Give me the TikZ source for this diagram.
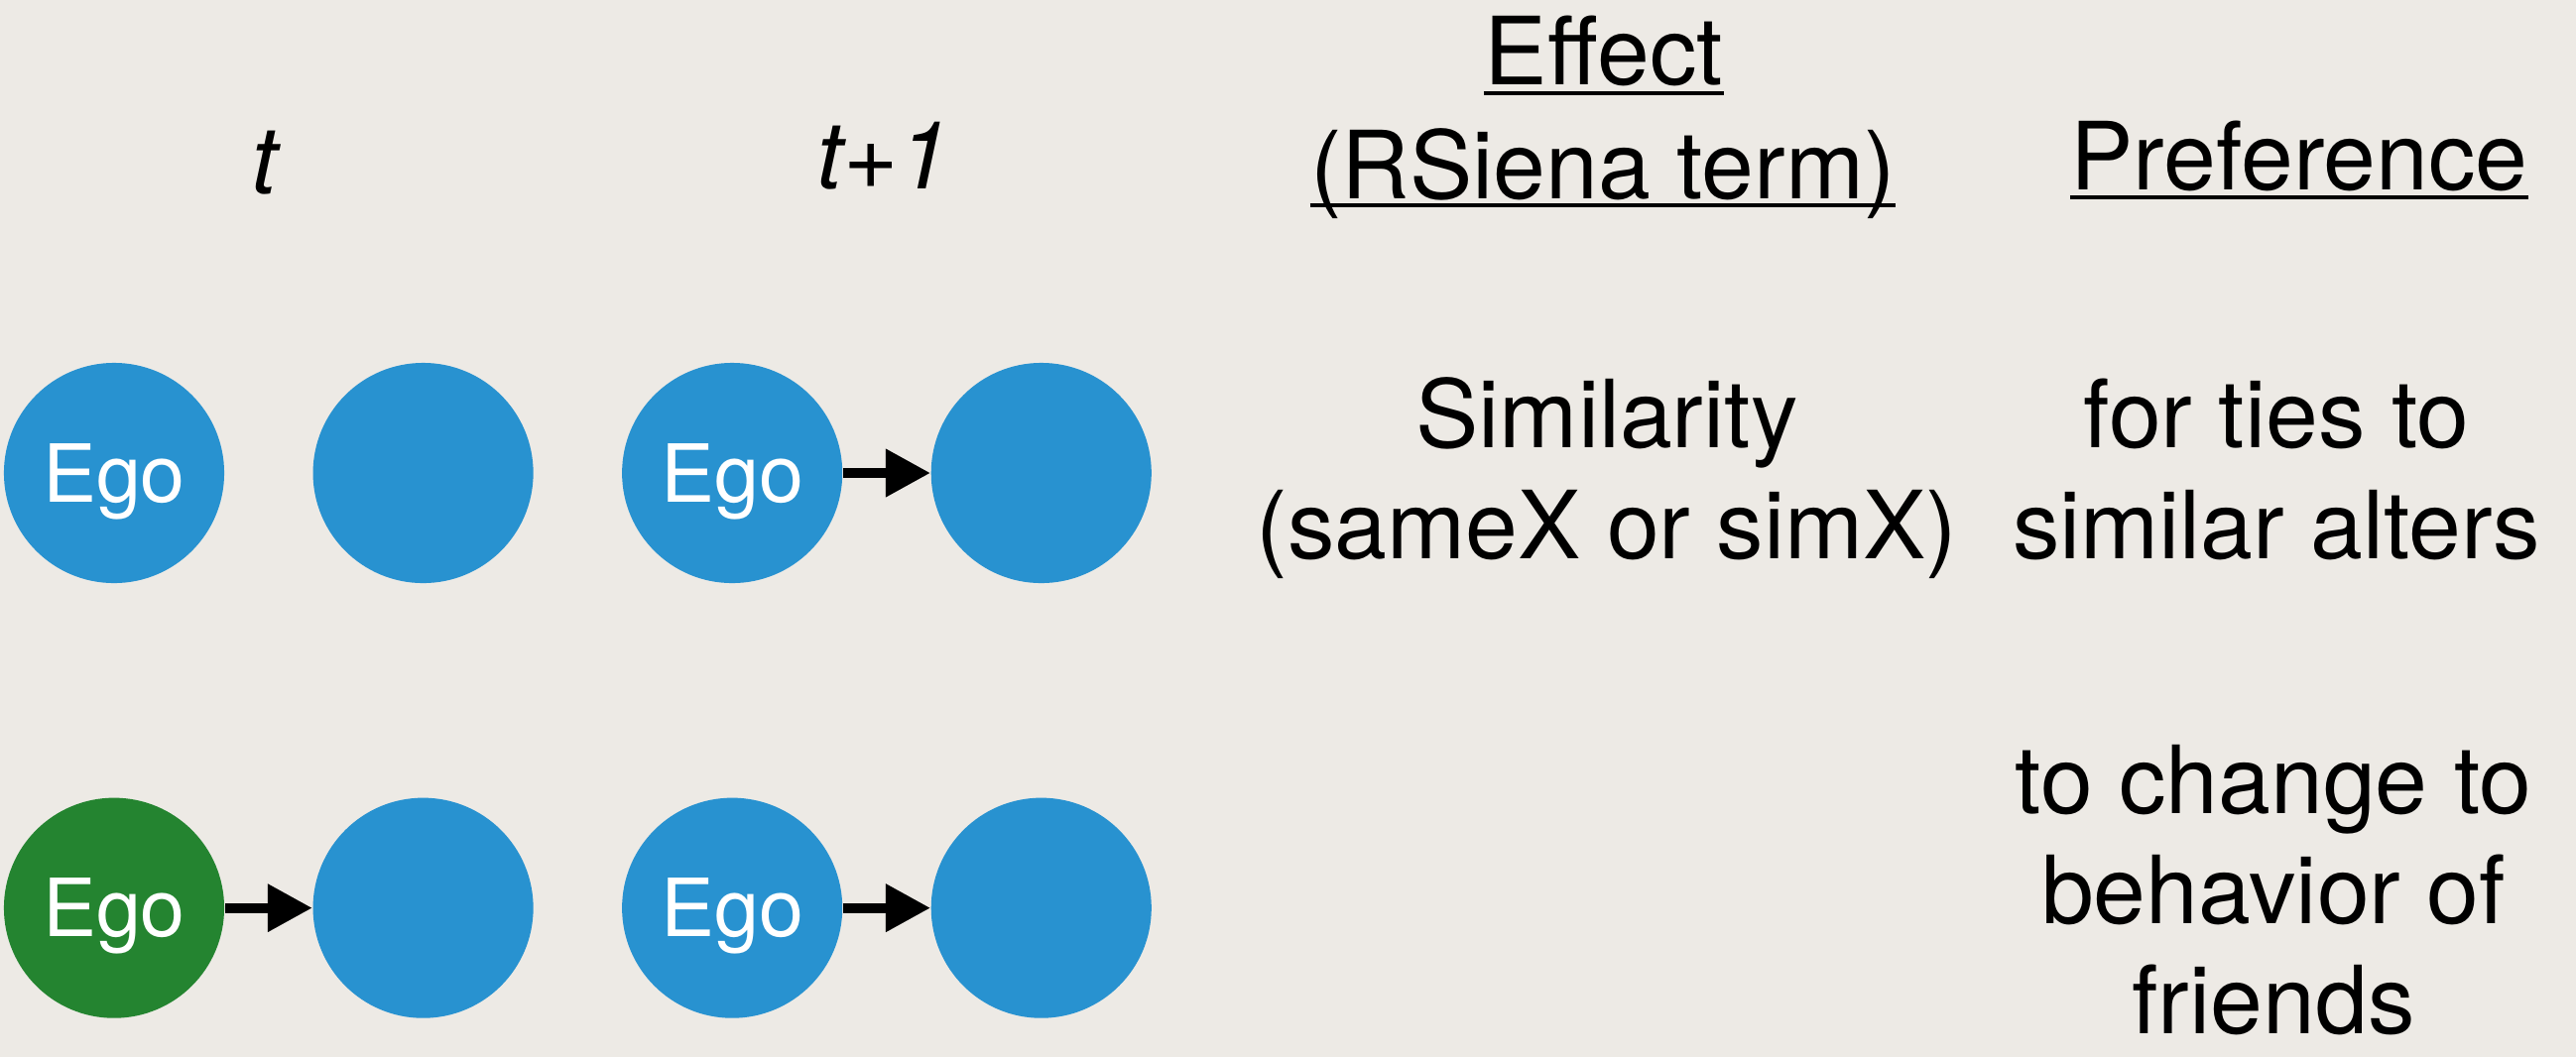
\documentclass[tikz,border=0pt]{standalone}
\usepackage{fontspec}
\setmainfont{TeX Gyre Heros}
\usetikzlibrary{arrows.meta,positioning}
\definecolor{paper}{RGB}{237,234,229}
\definecolor{egoblue}{RGB}{40,146,208}
\definecolor{egogreen}{RGB}{36,132,48}

\begin{document}
\begin{tikzpicture}[
  x=0.01cm, y=-0.01cm, node distance=8.8mm and 8.8mm,
  >={Triangle[length=4.5mm,width=4.6mm]},
  actor/.style={circle,fill=egoblue,minimum size=22.2mm,inner sep=0pt,text=white,
    font=\fontsize{23}{26}\selectfont,text height=5.8mm,text depth=0pt},
  egogr/.style={actor,fill=egogreen},
  tie/.style={->,line width=1mm},
  txt/.style={inner sep=0pt,anchor=base,align=center,font=\fontsize{27}{31.6}\selectfont},
  uline/.style={line width=0.4mm}]
% paper
\fill[paper] (0,0) rectangle (2597,1066);
% time labels
\node[txt] (tnow) at (267,195) {\itshape t};
\node[txt] (tnext) at (891,190) {\itshape t+1};
% column heads
\node[txt] (eff) at (1617,85) {Effect};
\node[txt] (term) at (1616,200) {(RSiena term)};
\node[txt] (pref) at (2318,191) {Preference};
\draw[uline] ([yshift=-0.09cm]eff.base west) -- ([yshift=-0.09cm]eff.base east);
\draw[uline] ([yshift=-0.07cm]term.base west) -- ([yshift=-0.07cm]term.base east);
\draw[uline] ([yshift=-0.08cm]pref.base west) -- ([yshift=-0.08cm]pref.base east);
% selection row
\node[actor] (ego1) at (115,477) {Ego};
\node[actor,right=of ego1] (alt1) {};
\node[actor,right=of alt1] (ego1n) {Ego};
\node[actor,right=of ego1n] (alt1n) {};
\draw[tie] (ego1n) -- (alt1n);
% base = last line
\node[txt] (simil) at (1620,563) {Similarity\\(sameX or simX)};
\node[txt] (selpref) at (2295,563) {for ties to\\similar alters};
% influence row
\node[egogr,below=21.5mm of ego1] (ego2) {Ego};
\node[actor,right=of ego2] (alt2) {};
\node[actor,right=of alt2] (ego2n) {Ego};
\node[actor,right=of ego2n] (alt2n) {};
\draw[tie] (ego2) -- (alt2);
\draw[tie] (ego2n) -- (alt2n);
\node[txt,font=\fontsize{27}{31.5}\selectfont] (infpref) at (2292,1042) {to change to\\behavior of\\friends};
\end{tikzpicture}
\end{document}
